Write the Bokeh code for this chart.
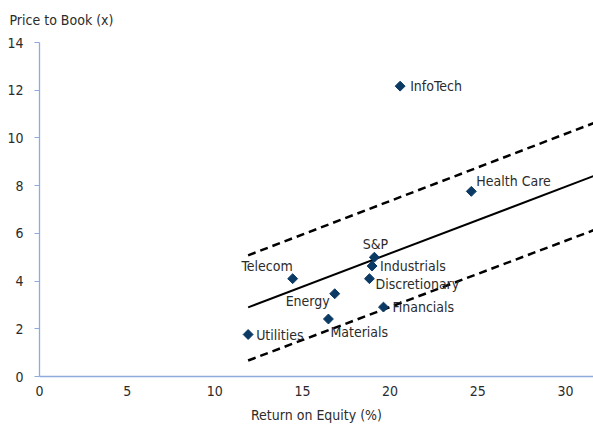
import numpy as np
from bokeh.plotting import figure
from bokeh.models import ColumnDataSource, Range1d, FixedTicker
from bokeh.core.properties import value
from bokeh.embed import file_html
from bokeh.resources import INLINE

# ---- data ----
sectors = ["InfoTech", "Health Care", "S&P", "Industrials", "Discretionary",
           "Telecom", "Energy", "Financials", "Materials", "Utilities"]
roe = [20.57, 24.63, 19.10, 18.97, 18.82, 14.44, 16.84, 19.62, 16.48, 11.90]
pb = [12.17, 7.76, 5.00, 4.63, 4.10, 4.10, 3.47, 2.91, 2.41, 1.76]

fit_x = [11.9, 31.6]
fit_mid = [2.90, 8.40]
fit_upper = [5.08, 10.62]
fit_lower = [0.67, 6.13]

x_ticks = [0, 5, 10, 15, 20, 25, 30]
y_ticks = [0, 2, 4, 6, 8, 10, 12, 14]

# label placement (screen px) - styling only
lab_dx = [10, 5, 1, 8, 6, 0, -5, 9, 2, 8]
lab_dy = [0, -10, -13, 0, 5, -13, 7, 0, 13, 0]
lab_align = ["left", "left", "center", "left", "left", "right", "right", "left", "left", "left"]

FONT = "DejaVu Sans Condensed, Roboto, sans-serif"
TXT = "#2b2b2b"
AXC = "#8FAADC"

p = figure(width=593, height=425, output_backend="svg", toolbar_location=None,
           x_range=Range1d(0, 31.6), y_range=Range1d(0, 14),
           min_border_left=39, min_border_right=0, min_border_top=42, min_border_bottom=49)
p.outline_line_color = None
p.xgrid.grid_line_color = None
p.ygrid.grid_line_color = None
p.background_fill_color = "white"

p.title.text = "Price to Book (x)\n "
p.title.align = "left"
p.title.offset = -30
p.title.text_font = FONT
p.title.text_font_size = "14px"
p.title.text_font_style = "normal"
p.title.text_color = TXT
p.title.text_line_height = 0.6

for ax in (p.xaxis[0], p.yaxis[0]):
    ax.axis_line_color = AXC
    ax.axis_line_width = 1.3
    ax.major_tick_line_color = AXC
    ax.minor_tick_line_color = None
    ax.major_label_text_font = FONT
    ax.major_label_text_font_size = "14px"
    ax.major_label_text_color = TXT
    ax.axis_label_text_font = FONT
    ax.axis_label_text_font_size = "14px"
    ax.axis_label_text_font_style = "normal"
    ax.axis_label_text_color = TXT

p.xaxis.ticker = FixedTicker(ticks=x_ticks)
p.yaxis.ticker = FixedTicker(ticks=y_ticks)
p.xaxis.major_tick_out = 0
p.xaxis.major_tick_in = 0
p.xaxis.major_label_standoff = 9
p.xaxis.axis_label = "Return on Equity (%)"
p.xaxis.axis_label_standoff = 8
p.yaxis.major_tick_out = 5
p.yaxis.major_tick_in = 0
p.yaxis.major_label_standoff = 11

# fit lines
p.line(fit_x, fit_mid, line_color="black", line_width=2)
p.line(fit_x, fit_upper, line_color="black", line_width=2.5, line_dash="8 5")
p.line(fit_x, fit_lower, line_color="black", line_width=2.5, line_dash="8 5")

src = ColumnDataSource(dict(x=roe, y=pb, name=sectors, dx=lab_dx, dy=lab_dy, al=lab_align))
p.scatter("x", "y", source=src, marker="square", angle=np.pi / 4, size=7,
          fill_color="#0B3A64", line_color="#0B3A64")
p.text("x", "y", text="name", source=src, x_offset="dx", y_offset="dy",
       text_align="al", text_baseline="middle", text_font=value(FONT),
       text_font_size="14px", text_color=TXT)

open("out.html", "w").write(file_html(p, INLINE))
